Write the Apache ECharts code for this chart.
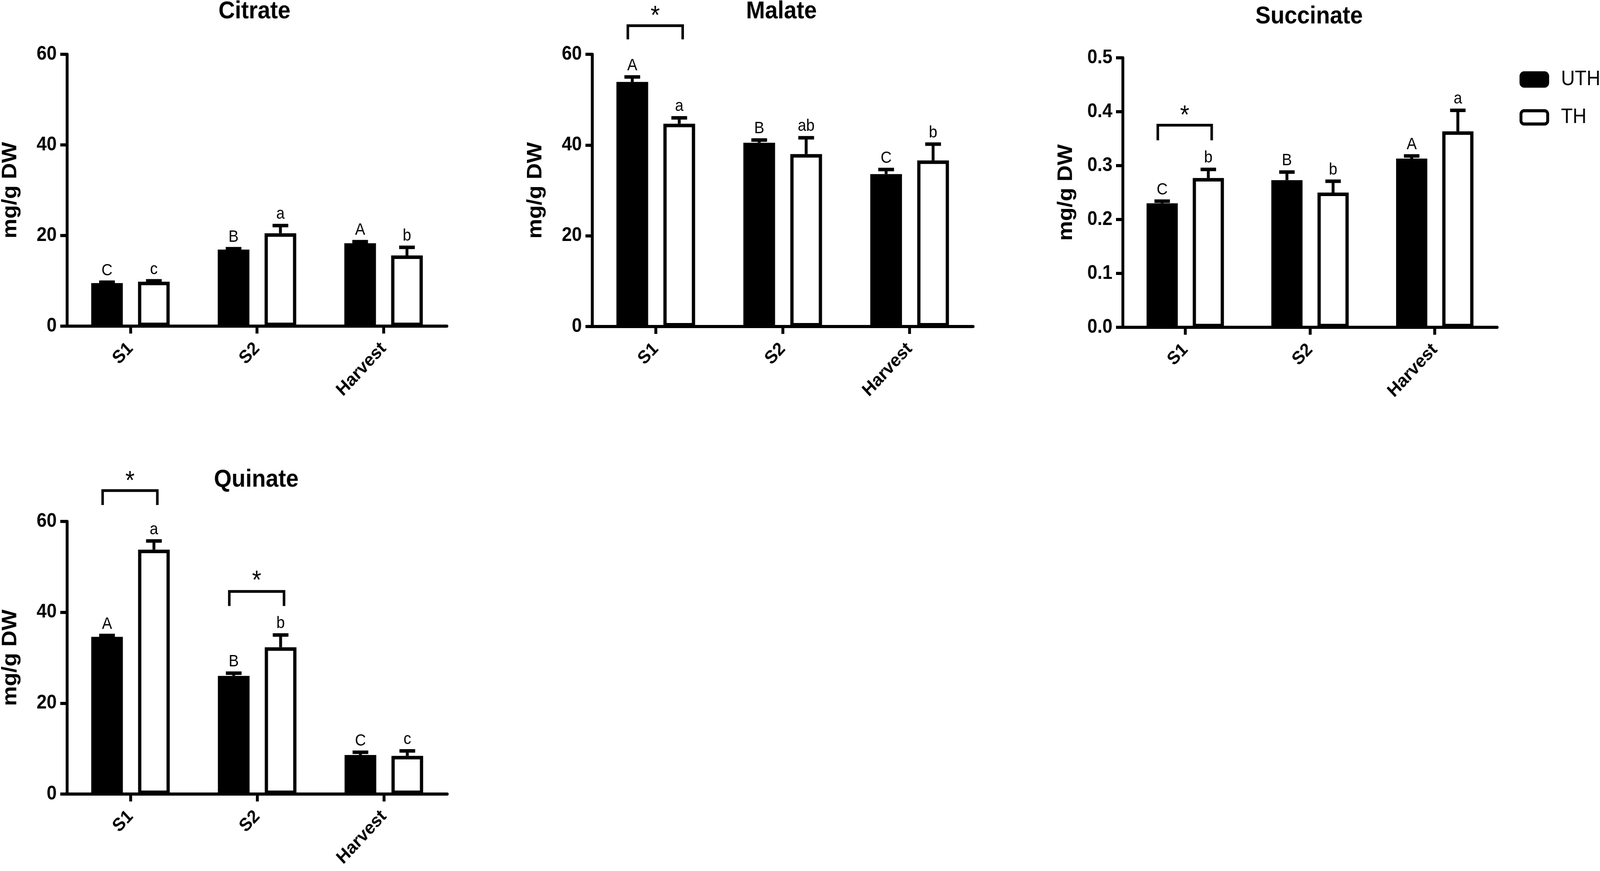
<!DOCTYPE html>
<html>
<head>
<meta charset="utf-8">
<script src="https://cdn.jsdelivr.net/npm/echarts@6/dist/echarts.min.js"></script>
<style>
html,body{margin:0;padding:0;background:#fff;overflow:hidden;}
#chart{width:4433px;height:2230px;transform-origin:0 0;}
</style>
</head>
<body>
<div id="chart"></div>
<script>
// ---------- data ----------
const categories = ['S1', 'S2', 'Harvest'];
const seriesNames = ['UTH', 'TH'];
const yAxisName = 'mg/g DW';

// Citrate
const citrateUTH = [9.5, 16.9, 18.3];
const citrateUTHErr = [0.2, 0.2, 0.35];
const citrateTH = [9.8, 20.5, 15.6];
const citrateTHErr = [0.2, 1.7, 1.8];
const citrateUTHLetters = ['C', 'B', 'A'];
const citrateTHLetters = ['c', 'a', 'b'];
const citrateBrackets = [];

// Malate
const malateUTH = [53.9, 40.5, 33.6];
const malateUTHErr = [1.1, 0.6, 1.0];
const malateTH = [44.7, 38.0, 36.6];
const malateTHErr = [1.3, 3.6, 3.6];
const malateUTHLetters = ['A', 'B', 'C'];
const malateTHLetters = ['a', 'ab', 'b'];
const malateBrackets = [[0, 66.3, 63.3, 69.4]];   // [category, bracket top, leg end, star]

// Succinate
const succinateUTH = [0.230, 0.273, 0.313];
const succinateUTHErr = [0.004, 0.015, 0.005];
const succinateTH = [0.277, 0.250, 0.3635];
const succinateTHErr = [0.016, 0.021, 0.039];
const succinateUTHLetters = ['C', 'B', 'A'];
const succinateTHLetters = ['b', 'b', 'a'];
const succinateBrackets = [[0, 0.375, 0.347, 0.401]];

// Quinate
const quinateUTH = [34.6, 26.0, 8.6];
const quinateUTHErr = [0.3, 0.6, 0.6];
const quinateTH = [53.8, 32.3, 8.4];
const quinateTHErr = [1.9, 2.7, 1.1];
const quinateUTHLetters = ['A', 'B', 'C'];
const quinateTHLetters = ['a', 'b', 'c'];
const quinateBrackets = [[0, 66.8, 63.6, 69.8], [1, 44.6, 41.4, 47.9]];

// Axis tick values
const citrateTicks = [0, 20, 40, 60];
const malateTicks = [0, 20, 40, 60];
const succinateTicks = [0.0, 0.1, 0.2, 0.3, 0.4, 0.5];
const quinateTicks = [0, 20, 40, 60];

// ---------- page fit (design size 4433 x 2230) ----------
const el = document.getElementById('chart');
(function fit() {
  const vw = window.innerWidth || 4433, vh = window.innerHeight || 2230;
  const sx = vw / 4433, sy = vh / 2230;
  if (Math.abs(sx - 1) > 0.001 || Math.abs(sy - 1) > 0.001) {
    el.style.transform = 'scale(' + sx + ',' + sy + ')';
  }
})();

// ---------- layout / style ----------
const FONT = "'Liberation Sans', Arial, Helvetica, sans-serif";
const NARROW = "'Liberation Sans Narrow', 'Arial Narrow', 'Liberation Sans', Arial, sans-serif";
const BAR_W = 0.25, BAR_GAP = 0.48;
const BAR_OFFSET = BAR_W * (1 + BAR_GAP) / 2;

const panels = [
  { title: 'Citrate', grid: [186, 139, 1052, 696], titlePos: [705, 30],
    uth: citrateUTH, uthErr: citrateUTHErr, th: citrateTH, thErr: citrateTHErr,
    uthL: citrateUTHLetters, thL: citrateTHLetters, br: citrateBrackets, ticks: citrateTicks, dec: 0 },
  { title: 'Malate', grid: [1641, 139, 1055, 697], titlePos: [2165, 30],
    uth: malateUTH, uthErr: malateUTHErr, th: malateTH, thErr: malateTHErr,
    uthL: malateUTHLetters, thL: malateTHLetters, br: malateBrackets, ticks: malateTicks, dec: 0 },
  { title: 'Succinate', grid: [3111, 148, 1037, 690], titlePos: [3627, 43],
    uth: succinateUTH, uthErr: succinateUTHErr, th: succinateTH, thErr: succinateTHErr,
    uthL: succinateUTHLetters, thL: succinateTHLetters, br: succinateBrackets, ticks: succinateTicks, dec: 1 },
  { title: 'Quinate', grid: [186, 1335, 1053, 698], titlePos: [710, 1229],
    uth: quinateUTH, uthErr: quinateUTHErr, th: quinateTH, thErr: quinateTHErr,
    uthL: quinateUTHLetters, thL: quinateTHLetters, br: quinateBrackets, ticks: quinateTicks, dec: 0 }
];

function errRender(sign, letters) {
  return function (params, api) {
    const ci = api.value(0), v = api.value(1), e = api.value(2);
    const base = api.coord([ci, v]);
    const top = api.coord([ci, v + e]);
    const band = api.size([1, 0])[0];
    const x = base[0] + sign * BAR_OFFSET * band;
    const capHalf = 0.062 * band;
    return {
      type: 'group',
      children: [
        {type: 'line', shape: {x1: x, y1: base[1], x2: x, y2: top[1]}, style: {stroke: '#000', lineWidth: 8}},
        {type: 'line', shape: {x1: x - capHalf, y1: top[1], x2: x + capHalf, y2: top[1]}, style: {stroke: '#000', lineWidth: 9}},
        {type: 'text', x: x, y: top[1] - 8, style: {text: letters[params.dataIndex], fontSize: 42, fontFamily: FONT,
          fill: '#000', align: 'center', verticalAlign: 'bottom'}}
      ]
    };
  };
}

function bracketRender(params, api) {
  const ci = api.value(0), yTop = api.value(1), yLeg = api.value(2), yStar = api.value(3);
  const c = api.coord([ci, yTop]);
  const leg = api.coord([ci, yLeg]);
  const st = api.coord([ci, yStar]);
  const band = api.size([1, 0])[0];
  const xL = c[0] - 0.22 * band, xR = c[0] + 0.212 * band;
  return {
    type: 'group',
    children: [
      {type: 'polyline', shape: {points: [[xL, leg[1]], [xL, c[1]], [xR, c[1]], [xR, leg[1]]]},
        style: {stroke: '#000', lineWidth: 7, fill: null, lineJoin: 'miter'}},
      {type: 'text', x: (xL + xR) / 2, y: st[1] + 13, style: {text: '*', fontSize: 66, fontFamily: FONT, fill: '#000',
        align: 'center', verticalAlign: 'middle'}}
    ]
  };
}

const option = {
  animation: false,
  backgroundColor: '#fff',
  title: [], grid: [], xAxis: [], yAxis: [], series: [],
  legend: {
    show: true, type: 'plain', orient: 'vertical', left: 4210, top: 177,
    itemWidth: 74, itemHeight: 34, itemGap: 44, padding: 0,
    icon: 'roundRect', selectedMode: false,
    textStyle: {fontSize: 53, lineHeight: 34, fontFamily: NARROW, color: '#000', padding: [0, 0, 0, 32]},
    data: [
      {name: seriesNames[0], itemStyle: {color: '#000', borderColor: '#000', borderWidth: 8}},
      {name: seriesNames[1], itemStyle: {color: '#fff', borderColor: '#000', borderWidth: 8}}
    ]
  }
};

panels.forEach(function (p, i) {
  option.title.push({
    text: p.title, left: p.titlePos[0], top: p.titlePos[1], textAlign: 'center', textVerticalAlign: 'middle', padding: 0,
    textStyle: {fontSize: 63, fontWeight: 'bold', fontFamily: FONT, color: '#000'}
  });
  option.grid.push({left: p.grid[0], top: p.grid[1], width: p.grid[2], height: p.grid[3], containLabel: false});
  option.xAxis.push({
    gridIndex: i, type: 'category', data: categories, boundaryGap: true,
    axisLine: {show: true, lineStyle: {color: '#000', width: 8}},
    axisTick: {show: true, alignWithLabel: true, length: 19, lineStyle: {color: '#000', width: 8}},
    axisLabel: {show: true, interval: 0, rotate: 45, fontSize: 47, fontWeight: 'bold', fontFamily: FONT, color: '#000',
      margin: 50},
    splitLine: {show: false}
  });
  const t = p.ticks;
  option.yAxis.push({
    gridIndex: i, type: 'value', min: t[0], max: t[t.length - 1], interval: t[1] - t[0],
    axisLine: {show: true, lineStyle: {color: '#000', width: 8}},
    axisTick: {show: true, length: 19, lineStyle: {color: '#000', width: 8}},
    axisLabel: {show: true, fontSize: 50, fontWeight: 'bold', fontFamily: FONT, color: '#000', margin: 29,
      formatter: (function (dec) { return function (v) { return Number(v).toFixed(dec); }; })(p.dec)},
    splitLine: {show: false},
    name: yAxisName, nameLocation: 'middle', nameGap: 128,
    nameTextStyle: {fontSize: 57, fontWeight: 'bold', fontFamily: FONT, color: '#000'}
  });
  option.series.push({
    name: seriesNames[0], type: 'bar', xAxisIndex: i, yAxisIndex: i, data: p.uth,
    barWidth: (BAR_W * 100) + '%', barGap: (BAR_GAP * 100) + '%',
    itemStyle: {color: '#000', borderColor: '#000', borderWidth: 9}
  });
  option.series.push({
    name: seriesNames[1], type: 'bar', xAxisIndex: i, yAxisIndex: i, data: p.th,
    barWidth: (BAR_W * 100) + '%', barGap: (BAR_GAP * 100) + '%',
    itemStyle: {color: '#fff', borderColor: '#000', borderWidth: 9}
  });
  option.series.push({
    type: 'custom', xAxisIndex: i, yAxisIndex: i, z: 5, clip: false,
    data: p.uth.map(function (v, k) { return [k, v, p.uthErr[k]]; }),
    renderItem: errRender(-1, p.uthL)
  });
  option.series.push({
    type: 'custom', xAxisIndex: i, yAxisIndex: i, z: 5, clip: false,
    data: p.th.map(function (v, k) { return [k, v, p.thErr[k]]; }),
    renderItem: errRender(1, p.thL)
  });
  if (p.br.length) {
    option.series.push({
      type: 'custom', xAxisIndex: i, yAxisIndex: i, z: 5, clip: false,
      data: p.br, renderItem: bracketRender
    });
  }
});

const chart = echarts.init(el, null, {renderer: 'canvas'});
chart.setOption(option);
</script>
</body>
</html>
